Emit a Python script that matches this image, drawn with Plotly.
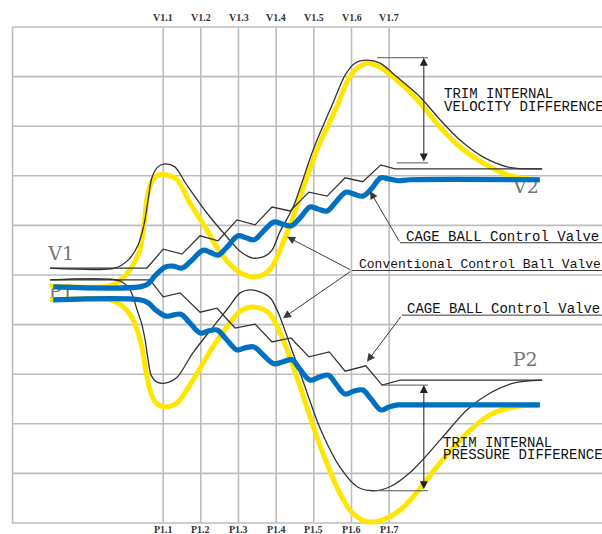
import plotly.graph_objects as go

# ---------------- grid / tick labels ----------------
grid_x = [4, 5, 6, 7, 8, 9, 10]
grid_y = [0, 1, 2, 3, 4, 5, 6, 7, 8, 9, 10]
v_labels = ["V1.1", "V1.2", "V1.3", "V1.4", "V1.5", "V1.6", "V1.7"]
p_labels = ["P1.1", "P1.2", "P1.3", "P1.4", "P1.5", "P1.6", "P1.7"]

# ---------------- curves (diagram units) ----------------
# Conventional control ball valve - velocity (black)
conv_v_x = [1.0, 2.72, 3.07, 3.33, 3.49, 3.60, 3.70, 3.86, 4.05, 4.31, 4.63, 5.16, 5.69, 6.04, 6.38,
            6.70, 6.89, 7.10, 7.45, 7.98, 8.51, 8.83, 9.09, 9.41, 9.76, 10.21, 10.82, 11.35, 11.88,
            12.49, 13.13, 13.61, 14.06]
conv_v_y = [5.14, 5.14, 5.30, 5.60, 6.01, 6.51, 6.96, 7.18, 7.24, 7.18, 6.81, 6.25, 5.77, 5.48, 5.34,
            5.38, 5.50, 5.87, 6.37, 7.52, 8.47, 9.03, 9.27, 9.33, 9.27, 8.99, 8.59, 8.13, 7.72,
            7.38, 7.18, 7.14, 7.14]

# Conventional - velocity (yellow)
yel_v_x = [1.0, 2.59, 2.93, 3.20, 3.38, 3.49, 3.57, 3.68, 3.84, 4.05, 4.37, 4.71, 5.16, 5.51, 5.85,
           6.17, 6.44, 6.70, 6.92, 7.10, 7.45, 8.08, 8.61, 8.88, 9.09, 9.41, 9.76, 10.21, 10.82,
           11.35, 11.88, 12.49, 13.13, 13.61, 14.0]
yel_v_y = [4.78, 4.78, 4.94, 5.20, 5.50, 6.01, 6.55, 6.85, 7.00, 7.02, 6.92, 6.45, 5.91, 5.46, 5.16,
           5.00, 4.96, 5.02, 5.20, 5.50, 6.17, 7.52, 8.39, 8.89, 9.13, 9.27, 9.19, 8.93, 8.47,
           7.98, 7.58, 7.26, 7.02, 6.94, 6.92]

# Conventional - pressure (black)
conv_p_x = [1.0, 2.85, 3.12, 3.31, 3.44, 3.52, 3.60, 3.68, 3.84, 4.05, 4.37, 4.79, 5.32, 5.72, 6.04,
            6.30, 6.57, 6.84, 7.05, 7.37, 7.63, 8.16, 8.69, 9.15, 9.57, 10.02, 10.63, 11.35, 12.06,
            12.68, 13.30, 14.06]
conv_p_y = [4.90, 4.88, 4.70, 4.29, 3.99, 3.69, 3.29, 2.98, 2.84, 2.82, 2.94, 3.43, 3.95, 4.33, 4.64,
            4.70, 4.66, 4.54, 4.25, 3.59, 3.04, 1.92, 1.13, 0.73, 0.65, 0.73, 1.07, 1.67, 2.28,
            2.62, 2.82, 2.88]

# Conventional - pressure (yellow)
yel_p_x = [1.0, 2.59, 2.91, 3.15, 3.31, 3.44, 3.54, 3.65, 3.81, 4.05, 4.37, 4.79, 5.32, 5.69, 6.04,
           6.30, 6.57, 6.78, 6.97, 7.29, 7.63, 8.16, 8.69, 8.96, 9.23, 9.49, 9.89, 10.29, 10.63,
           11.35, 12.06, 12.68, 13.30, 14.0]
yel_p_y = [4.50, 4.50, 4.38, 4.17, 3.89, 3.53, 3.08, 2.68, 2.42, 2.34, 2.42, 2.88, 3.55, 3.95, 4.27,
           4.35, 4.33, 4.25, 4.05, 3.49, 2.76, 1.57, 0.60, 0.26, 0.08, 0.02, 0.08, 0.26, 0.52,
           1.21, 1.81, 2.18, 2.34, 2.38]

# CAGE BALL control valve - velocity (black)
cage_v_x = [1.0, 3.57, 4.0, 4.50, 4.98, 5.46, 5.96, 6.44, 6.89, 7.37, 7.87, 8.35, 8.83, 9.30, 9.78,
            10.15, 14.06]
cage_v_y = [5.14, 5.14, 5.52, 5.42, 5.79, 5.69, 6.11, 6.01, 6.37, 6.29, 6.67, 6.59, 6.96, 6.88, 7.22,
            7.14, 7.14]

# CAGE BALL control valve - pressure (black)
cage_p_x = [1.0, 3.65, 4.0, 4.45, 4.98, 5.43, 5.91, 6.44, 6.89, 7.39, 7.87, 8.41, 8.83, 9.38, 9.81,
            10.29, 14.06]
cage_p_y = [4.90, 4.90, 4.56, 4.64, 4.25, 4.33, 3.93, 4.01, 3.65, 3.73, 3.35, 3.45, 3.06, 3.17, 2.78,
            2.88, 2.88]

# CAGE BALL - velocity (blue)
blue_v_x = [1.08, 3.38, 3.60, 3.78, 4.05, 4.26, 4.50, 4.71, 5.06, 5.24, 5.46, 5.67, 5.99, 6.20, 6.41,
            6.62, 6.94, 7.15, 7.39, 7.61, 7.90, 8.11, 8.35, 8.56, 8.85, 9.07, 9.30, 9.52, 9.78,
            9.97, 10.23, 10.55, 14.0]
blue_v_y = [4.76, 4.76, 4.82, 4.98, 5.16, 5.18, 5.14, 5.26, 5.50, 5.46, 5.40, 5.54, 5.79, 5.75, 5.71,
            5.85, 6.07, 6.03, 5.99, 6.13, 6.37, 6.33, 6.29, 6.45, 6.67, 6.63, 6.59, 6.73, 6.96,
            6.94, 6.90, 6.92, 6.92]

# CAGE BALL - pressure (blue)
blue_p_x = [1.08, 3.38, 3.60, 3.81, 4.07, 4.26, 4.47, 4.69, 4.98, 5.19, 5.43, 5.67, 5.96, 6.17, 6.41,
            6.65, 6.94, 7.18, 7.42, 7.63, 7.90, 8.14, 8.39, 8.59, 8.83, 9.07, 9.30, 9.52, 9.78,
            9.99, 10.23, 10.55, 14.0]
blue_p_y = [4.50, 4.50, 4.44, 4.29, 4.17, 4.19, 4.21, 4.05, 3.83, 3.87, 3.89, 3.71, 3.49, 3.53, 3.55,
            3.39, 3.21, 3.25, 3.29, 3.10, 2.88, 2.94, 2.98, 2.80, 2.60, 2.66, 2.68, 2.50, 2.28,
            2.34, 2.38, 2.38, 2.38]

# big state labels
state_text = ["V1", "P1", "V2", "P2"]
state_x = [1.29, 1.29, 13.63, 13.61]
state_y = [5.39, 4.63, 6.74, 3.27]

# figure fills the whole window (page margin removed in post_script)
FIG_W, FIG_H = 602, 534
X_MIN, X_MAX = -0.332, 15.65
Y_MIN, Y_MAX = -0.222, 10.544

GRID_COLOR = "#bdbdbd"
BLACK = "#333333"
YELLOW = "#FFE600"
BLUE = "#0070C0"
LEADER = "#3a3a3a"

fig = go.Figure()

# state labels (under the curves)
fig.add_trace(go.Scatter(x=state_x, y=state_y, mode="text", text=state_text,
                         textposition="middle center",
                         textfont=dict(family="DejaVu Serif", size=19, color="#767676"),
                         hoverinfo="skip"))

# yellow curves
for xs, ys in [(yel_v_x, yel_v_y), (yel_p_x, yel_p_y)]:
    fig.add_trace(go.Scatter(x=xs, y=ys, mode="lines",
                             line=dict(color=YELLOW, width=5, shape="spline", smoothing=0.8)))
# black conventional curves
for xs, ys in [(conv_v_x, conv_v_y), (conv_p_x, conv_p_y)]:
    fig.add_trace(go.Scatter(x=xs, y=ys, mode="lines",
                             line=dict(color=BLACK, width=1.3, shape="spline", smoothing=0.8)))
# black cage curves
for xs, ys in [(cage_v_x, cage_v_y), (cage_p_x, cage_p_y)]:
    fig.add_trace(go.Scatter(x=xs, y=ys, mode="lines",
                             line=dict(color=BLACK, width=1.3, shape="linear")))
# blue curves
for xs, ys in [(blue_v_x, blue_v_y), (blue_p_x, blue_p_y)]:
    fig.add_trace(go.Scatter(x=xs, y=ys, mode="lines",
                             line=dict(color=BLUE, width=5.2, shape="spline", smoothing=1.0)))

shapes = []
# frame + grid
shapes.append(dict(type="line", x0=0, x1=0, y0=0, y1=10, xref="x", yref="y",
                   line=dict(color=GRID_COLOR, width=1.6), layer="below"))
for gx in grid_x:
    shapes.append(dict(type="line", x0=gx, x1=gx, y0=0, y1=10, xref="x", yref="y",
                       line=dict(color=GRID_COLOR, width=1.6), layer="below"))
for gy in grid_y:
    shapes.append(dict(type="line", x0=0, x1=X_MAX + 1, y0=gy, y1=gy, xref="x", yref="y",
                       line=dict(color=GRID_COLOR, width=1.6), layer="below"))

# underlines of the callout texts
for (x0, y0) in [(10.29, 5.65), (9.01, 5.09), (10.34, 4.19)]:
    shapes.append(dict(type="line", x0=x0, x1=X_MAX + 1, y0=y0, y1=y0, xref="x", yref="y",
                       line=dict(color=LEADER, width=1)))
# dimension extension lines
for (x0, x1, y0) in [(9.68, 11.03, 9.38), (10.2, 11.03, 7.26), (9.81, 11.03, 2.78), (9.57, 11.03, 0.65)]:
    shapes.append(dict(type="line", x0=x0, x1=x1, y0=y0, y1=y0, xref="x", yref="y",
                       line=dict(color="#555555", width=1)))

annotations = []
# tick labels
for gx, vl, pl in zip(grid_x, v_labels, p_labels):
    annotations.append(dict(x=gx, y=10.19, text="<b>" + vl + "</b>", showarrow=False,
                            xref="x", yref="y",
                            font=dict(family="Liberation Serif", size=10, color="#333333")))
    annotations.append(dict(x=gx, y=-0.14, text="<b>" + pl + "</b>", showarrow=False,
                            xref="x", yref="y",
                            font=dict(family="Liberation Serif", size=10, color="#333333")))

mono14 = dict(family="Liberation Mono", size=14, color="#111111")
mono13 = dict(family="Liberation Mono", size=13, color="#111111")
for txt, tx, ty, f in [("TRIM INTERNAL", 11.43, 8.64, mono14),
                       ("VELOCITY DIFFERENCE", 11.43, 8.38, mono14),
                       ("TRIM INTERNAL", 11.40, 1.61, mono14),
                       ("PRESSURE DIFFERENCE", 11.40, 1.37, mono14),
                       ("CAGE BALL Control Valve", 10.42, 5.76, mono14),
                       ("Conventional Control Ball Valve", 9.17, 5.22, mono13),
                       ("CAGE BALL Control Valve", 10.45, 4.31, mono14)]:
    annotations.append(dict(x=tx, y=ty, text=txt, showarrow=False, xref="x", yref="y",
                            xanchor="left", yanchor="middle", font=f, borderpad=0))

# leader arrows (tip, tail)
for (tx, ty, sx, sy) in [(9.49, 6.69, 10.29, 5.65),
                         (7.29, 5.77, 9.01, 5.09),
                         (7.18, 4.13, 9.01, 5.09),
                         (9.41, 3.25, 10.34, 4.19)]:
    annotations.append(dict(x=tx, y=ty, ax=sx, ay=sy, xref="x", yref="y", axref="x", ayref="y",
                            text="", showarrow=True, arrowhead=2, arrowsize=1.6, arrowwidth=1,
                            arrowcolor=LEADER, standoff=0))

# dimension arrows (both ends)
for (x, y0, y1) in [(10.92, 9.38, 7.26), (10.92, 2.78, 0.65)]:
    annotations.append(dict(x=x, y=y0, ax=x, ay=y1, xref="x", yref="y", axref="x", ayref="y",
                            text="", showarrow=True, arrowhead=2, startarrowhead=2,
                            arrowside="end+start", arrowsize=1.6, arrowwidth=1,
                            arrowcolor="#222222", standoff=0, startstandoff=0))

fig.update_layout(
    width=FIG_W, height=FIG_H,
    margin=dict(l=0, r=0, t=0, b=0),
    paper_bgcolor="white", plot_bgcolor="white",
    showlegend=False,
    xaxis=dict(range=[X_MIN, X_MAX], visible=False, fixedrange=True),
    yaxis=dict(range=[Y_MIN, Y_MAX], visible=False, fixedrange=True),
    shapes=shapes,
    annotations=annotations,
)

fig.write_html("out.html",
               config={"displayModeBar": False},
               post_script="document.body.style.margin='0';document.body.style.overflow='hidden';")
